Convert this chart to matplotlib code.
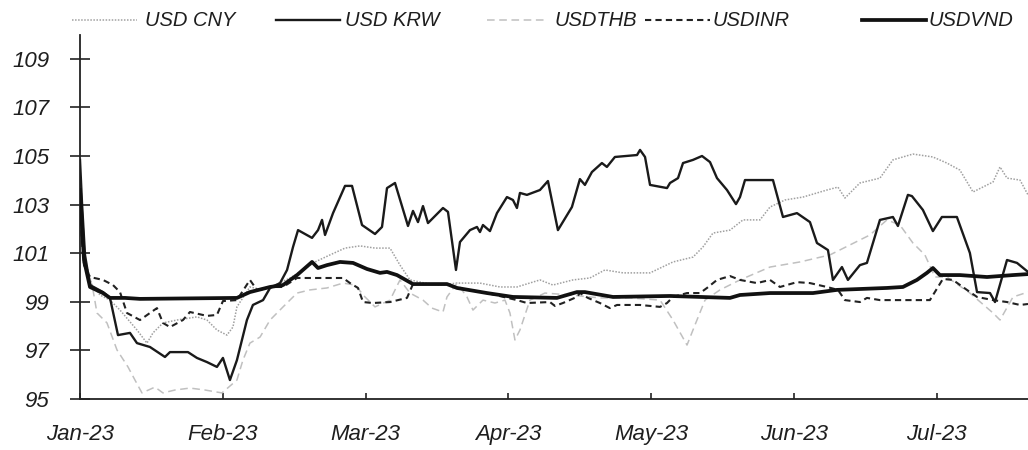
import matplotlib
matplotlib.use("Agg")
import matplotlib.pyplot as plt
import matplotlib.font_manager as fm
from matplotlib.lines import Line2D

# the scan uses a condensed italic face; take the narrow Liberation cut if present
installed = {f.name for f in fm.fontManager.ttflist}
if "Liberation Sans Narrow" in installed:
    face, tick_fs, leg_fs = "Liberation Sans Narrow", 19, 17.5
else:
    face, tick_fs, leg_fs = "Liberation Sans", 16, 14.5

plt.rcParams.update(
    {
        "font.family": [face, "DejaVu Sans"],
        "font.style": "italic",
        "font.size": tick_fs,
        "text.color": "#1e1e1e",
    }
)

# x positions are in months after the start of Jan-23
month_labels = ["Jan-23", "Feb-23", "Mar-23", "Apr-23", "May-23", "Jun-23", "Jul-23"]

krw_t = [0.000, 0.014, 0.035, 0.070, 0.161, 0.210, 0.266, 0.350, 0.399, 0.490,
         0.595, 0.630, 0.756, 0.819, 0.889, 0.959, 1.001, 1.050, 1.099, 1.169,
         1.211, 1.282, 1.331, 1.401, 1.450, 1.492, 1.527, 1.625, 1.667, 1.695,
         1.716, 1.772, 1.856, 1.905, 1.975, 2.066, 2.115, 2.150, 2.206, 2.297,
         2.332, 2.367, 2.402, 2.437, 2.542, 2.577, 2.633, 2.661, 2.731, 2.780,
         2.801, 2.822, 2.871, 2.920, 2.990, 3.032, 3.060, 3.081, 3.130, 3.221,
         3.277, 3.347, 3.445, 3.501, 3.536, 3.585, 3.655, 3.690, 3.746, 3.901,
         3.922, 3.957, 3.992, 4.111, 4.132, 4.188, 4.223, 4.293, 4.356, 4.412,
         4.461, 4.531, 4.594, 4.622, 4.657, 4.853, 4.923, 5.021, 5.112, 5.161,
         5.238, 5.273, 5.336, 5.378, 5.462, 5.511, 5.602, 5.693, 5.728, 5.798,
         5.826, 5.903, 5.973, 6.036, 6.141, 6.232, 6.282, 6.373, 6.408, 6.492,
         6.562, 6.639]
krw_v = [104.84, 103.07, 100.93, 99.69, 99.40, 99.16, 97.63, 97.72, 97.30, 97.14,
         96.73, 96.93, 96.93, 96.69, 96.52, 96.32, 96.69, 95.78, 96.60, 98.25,
         98.87, 99.07, 99.57, 99.77, 100.31, 101.26, 101.95, 101.63, 101.95, 102.37,
         101.75, 102.65, 103.77, 103.77, 102.16, 101.79, 102.08, 103.68, 103.89, 102.12,
         102.74, 102.28, 102.94, 102.24, 102.86, 102.70, 100.31, 101.46, 101.95, 102.08,
         101.87, 102.16, 101.91, 102.65, 103.31, 103.19, 102.86, 103.48, 103.40, 103.60,
         103.97, 101.95, 102.90, 104.05, 103.81, 104.34, 104.71, 104.55, 104.96, 105.04,
         105.25, 104.96, 103.81, 103.68, 103.89, 104.09, 104.71, 104.84, 105.00, 104.75,
         104.09, 103.60, 103.02, 103.31, 104.01, 104.01, 102.49, 102.65, 102.28, 101.42,
         101.13, 99.90, 100.43, 99.90, 100.51, 100.60, 102.37, 102.49, 102.12, 103.40,
         103.35, 102.78, 101.91, 102.49, 102.49, 101.01, 99.40, 99.36, 98.99, 100.72,
         100.60, 100.23]

vnd_t = [0.000, 0.028, 0.070, 0.161, 0.210, 0.315, 0.420, 1.099, 1.190, 1.331,
         1.422, 1.520, 1.625, 1.667, 1.730, 1.821, 1.912, 2.010, 2.101, 2.150,
         2.220, 2.332, 2.570, 2.640, 2.850, 3.032, 3.340, 3.480, 3.536, 3.732,
         4.132, 4.552, 4.622, 4.832, 5.133, 5.301, 5.651, 5.763, 5.861, 5.931,
         5.973, 6.022, 6.162, 6.352, 6.534, 6.639]
vnd_v = [103.60, 100.72, 99.61, 99.36, 99.16, 99.16, 99.12, 99.16, 99.40, 99.61,
         99.69, 100.10, 100.64, 100.39, 100.51, 100.64, 100.60, 100.35, 100.19, 100.23,
         100.10, 99.73, 99.73, 99.57, 99.36, 99.20, 99.16, 99.40, 99.40, 99.20,
         99.24, 99.16, 99.28, 99.36, 99.36, 99.49, 99.57, 99.61, 99.90, 100.19,
         100.39, 100.10, 100.10, 100.02, 100.10, 100.14]

inr_t = [0.000, 0.028, 0.070, 0.161, 0.231, 0.280, 0.329, 0.420, 0.490, 0.539,
         0.581, 0.630, 0.721, 0.770, 0.889, 0.959, 1.001, 1.099, 1.190, 1.239,
         1.331, 1.422, 1.520, 1.842, 1.891, 1.947, 1.982, 2.052, 2.171, 2.290,
         2.332, 2.570, 2.640, 2.850, 3.060, 3.130, 3.291, 3.326, 3.382, 3.480,
         3.501, 3.557, 3.641, 3.711, 3.761, 3.922, 4.062, 4.111, 4.153, 4.251,
         4.342, 4.391, 4.461, 4.552, 4.622, 4.741, 4.832, 4.902, 5.021, 5.112,
         5.231, 5.308, 5.357, 5.462, 5.511, 5.602, 5.952, 6.043, 6.113, 6.211,
         6.282, 6.394, 6.492, 6.583, 6.639]
inr_v = [102.37, 100.51, 100.02, 99.90, 99.69, 99.40, 98.54, 98.25, 98.54, 98.74,
         98.13, 97.96, 98.25, 98.58, 98.42, 98.46, 99.03, 99.07, 99.90, 99.49,
         99.61, 99.61, 99.98, 99.98, 99.77, 99.57, 98.99, 98.95, 98.99, 99.16,
         99.73, 99.73, 99.57, 99.36, 99.07, 98.95, 98.99, 98.83, 98.95, 99.20,
         99.36, 99.16, 98.95, 98.74, 98.87, 98.87, 98.79, 98.95, 99.20, 99.36,
         99.36, 99.57, 99.90, 100.06, 99.90, 99.77, 99.90, 99.61, 99.81, 99.77,
         99.61, 99.49, 99.07, 98.99, 99.16, 99.07, 99.07, 99.94, 99.90, 99.49,
         99.20, 99.07, 98.99, 98.87, 98.91]

thb_t = [0.000, 0.035, 0.091, 0.119, 0.189, 0.259, 0.336, 0.385, 0.434, 0.525,
         0.581, 0.665, 0.770, 0.875, 0.994, 1.099, 1.141, 1.190, 1.261, 1.331,
         1.422, 1.520, 1.611, 1.730, 1.842, 1.926, 1.996, 2.066, 2.171, 2.241,
         2.311, 2.402, 2.465, 2.542, 2.570, 2.640, 2.710, 2.752, 2.822, 2.906,
         2.976, 3.011, 3.046, 3.081, 3.151, 3.256, 3.431, 3.641, 3.852, 4.062,
         4.153, 4.251, 4.307, 4.377, 4.482, 4.622, 4.832, 5.042, 5.252, 5.392,
         5.532, 5.651, 5.742, 5.833, 5.917, 5.987, 6.071, 6.232, 6.394, 6.443,
         6.534, 6.639]
thb_v = [104.01, 100.72, 99.49, 98.54, 98.13, 97.02, 96.32, 95.78, 95.25, 95.49,
         95.25, 95.37, 95.45, 95.37, 95.25, 95.78, 96.60, 97.30, 97.55, 98.25,
         98.79, 99.36, 99.49, 99.57, 99.77, 99.69, 99.20, 98.79, 99.07, 99.90,
         99.36, 99.07, 98.74, 98.58, 99.20, 99.77, 99.20, 98.66, 99.07, 98.95,
         99.07, 98.54, 97.43, 97.84, 99.07, 99.36, 99.28, 99.16, 99.16, 99.07,
         98.25, 97.22, 98.05, 99.07, 99.49, 99.90, 100.43, 100.64, 100.93, 101.34,
         101.75, 102.37, 102.16, 101.42, 100.93, 100.02, 100.02, 99.36, 98.54, 98.25,
         99.20, 99.40]

cny_t = [0.000, 0.028, 0.084, 0.140, 0.210, 0.280, 0.399, 0.469, 0.511, 0.581,
         0.679, 0.819, 0.889, 0.959, 1.029, 1.071, 1.099, 1.190, 1.282, 1.366,
         1.471, 1.541, 1.646, 1.751, 1.856, 1.961, 2.066, 2.171, 2.241, 2.311,
         2.416, 2.521, 2.640, 2.801, 2.941, 3.060, 3.221, 3.312, 3.452, 3.571,
         3.676, 3.803, 3.992, 4.153, 4.293, 4.363, 4.433, 4.552, 4.643, 4.762,
         4.832, 4.937, 5.063, 5.231, 5.308, 5.357, 5.462, 5.602, 5.693, 5.833,
         5.973, 6.071, 6.162, 6.254, 6.394, 6.443, 6.492, 6.583, 6.639]
cny_v = [104.22, 100.93, 99.69, 99.28, 99.07, 98.66, 97.84, 97.30, 97.72, 98.13,
         98.25, 98.38, 98.25, 97.84, 97.63, 97.96, 98.79, 99.61, 99.49, 99.69,
         99.98, 100.23, 100.64, 100.93, 101.21, 101.30, 101.21, 101.21, 100.51, 99.90,
         99.77, 99.69, 99.77, 99.77, 99.61, 99.61, 99.90, 99.69, 99.90, 99.98,
         100.31, 100.19, 100.19, 100.64, 100.84, 101.26, 101.83, 101.95, 102.37, 102.37,
         102.90, 103.19, 103.31, 103.60, 103.72, 103.27, 103.89, 104.09, 104.84, 105.08,
         104.96, 104.71, 104.42, 103.52, 103.93, 104.55, 104.09, 104.01, 103.40]

styles = {
    "USD CNY": dict(color="#a0a0a0", lw=1.1, ls=(0, (1, 1))),
    "USD KRW": dict(color="#1a1a1a", lw=1.7, ls="-"),
    "USDTHB": dict(color="#c0c0c0", lw=1.1, ls=(0, (5, 3))),
    "USDINR": dict(color="#222222", lw=1.5, ls=(0, (3, 2))),
    "USDVND": dict(color="#111111", lw=2.7, ls="-"),
}

W, H = 1028, 450
fig = plt.figure(figsize=(W / 100, H / 100), dpi=100)
ax = fig.add_axes([80 / W, 1 - 399 / H, 948 / W, (399 - 34.5) / H])

ax.plot(cny_t, cny_v, **styles["USD CNY"], zorder=2)
ax.plot(thb_t, thb_v, **styles["USDTHB"], zorder=2)
ax.plot(inr_t, inr_v, **styles["USDINR"], zorder=3)
ax.plot(krw_t, krw_v, **styles["USD KRW"], zorder=4)
ax.plot(vnd_t, vnd_v, **styles["USDVND"], zorder=5)

ax.set_xlim(0, 6.639)
ax.set_ylim(95, 110)
ax.set_yticks(range(95, 110, 2))
ax.set_xticks(range(len(month_labels)))
ax.set_xticklabels(month_labels)

for s in ["top", "right"]:
    ax.spines[s].set_visible(False)
for s in ["left", "bottom"]:
    ax.spines[s].set_linewidth(1.3)
    ax.spines[s].set_color("#222222")

ax.tick_params(axis="y", direction="inout", length=14, width=1.2, pad=15,
               colors="#222222", labelcolor="#1e1e1e")
ax.tick_params(axis="x", direction="in", length=4, width=1.2, pad=18,
               colors="#222222", labelcolor="#1e1e1e")

# legend row along the top
ly = 1 - 20 / H
legend_pos = {
    "USD CNY": (72, 137, 145),
    "USD KRW": (276, 340, 345),
    "USDTHB": (487, 545, 555),
    "USDINR": (645, 710, 713),
    "USDVND": (862, 926, 928),
}
for name, (x0, x1, tx) in legend_pos.items():
    fig.add_artist(Line2D([x0 / W, x1 / W], [ly, ly], transform=fig.transFigure,
                          **styles[name]))
    fig.text(tx / W, ly, name, va="center", ha="left", fontsize=leg_fs)

fig.savefig("out.png", dpi=100)
plt.close(fig)
